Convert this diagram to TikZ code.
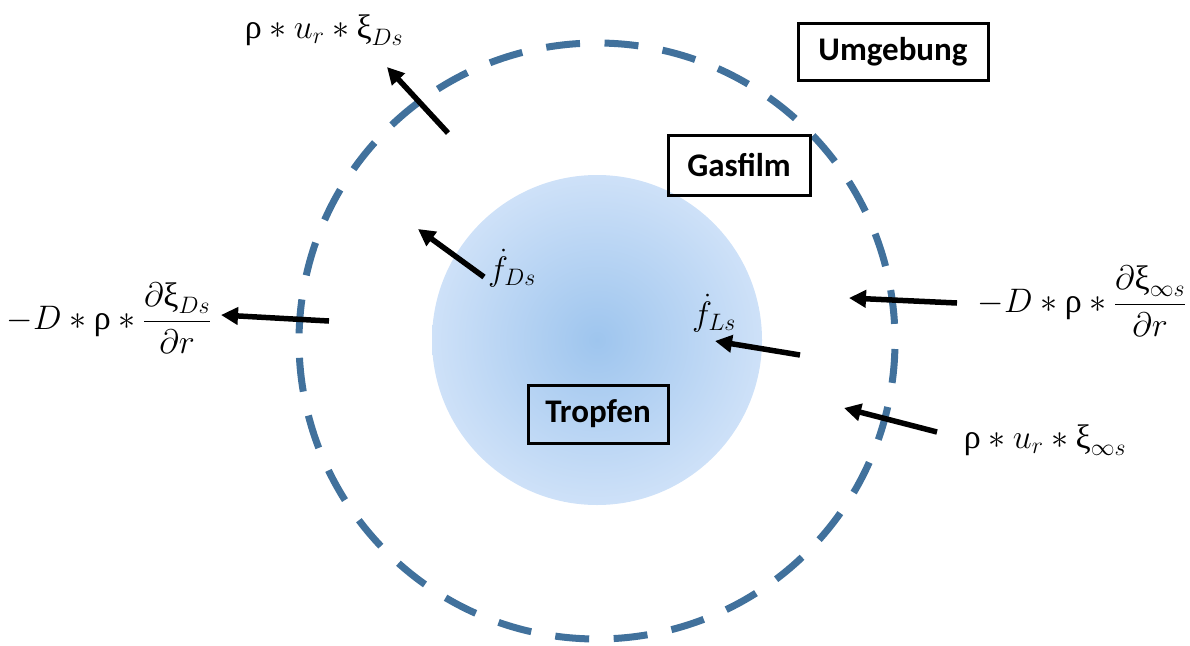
\RequirePackage{fix-cm}
\documentclass[tikz,border=0pt]{standalone}
\usepackage{fontspec}
\newfontfamily\boxfont{Carlito}
\newfontfamily\grk{Liberation Serif}
\usetikzlibrary{arrows.meta}
\definecolor{ringblue}{RGB}{65,113,156}
\definecolor{dropin}{RGB}{158,197,238}
\definecolor{dropout}{RGB}{206,225,248}
\newcommand\grho{\mbox{\grk ρ}}
\newcommand\gxi{\mbox{\grk ξ}}
\tikzset{
  flux/.style={line width=5.5pt,-{Triangle[length=17pt,width=17pt]}},
  labelbox/.style={draw=black,line width=3pt,font=\boxfont\bfseries\fontsize{33}{38}\selectfont,minimum height=57pt,inner sep=0pt},
  mathlbl/.style={font=\fontsize{34}{40}\selectfont,inner sep=0pt}
}
\begin{document}
\begin{tikzpicture}[x=1pt,y=-1pt]
\useasboundingbox (0,0) rectangle (1190,645);
% droplet
\shade[inner color=dropin,outer color=dropout] (597,340) circle (165);
% gas film boundary
\draw[ringblue,line width=7pt,dash pattern=on 34pt off 24.5pt,dash phase=-8pt] (597,341) circle (298);
% boxes
\node[labelbox,minimum width=190pt] (umg) at (893,52) {Umgebung};
\node[labelbox,minimum width=142pt,minimum height=60pt] (gas) at (739,165) {Gasfilm};
\node[labelbox,minimum width=140pt,minimum height=58pt] (tro) at (598,414) {Tropfen};
% labels
\node[mathlbl] (l1) at (324,30) {$\grho\ast u_r\ast\gxi_{Ds}$};
\node[mathlbl] (l2) at (109,318) {$\displaystyle -D\ast\grho\ast\frac{\partial\gxi_{Ds}}{\partial r}$};
\node[mathlbl] (l3) at (1082,301) {$\displaystyle -D\ast\grho\ast\frac{\partial\gxi_{\infty s}}{\partial r}$};
\node[mathlbl] (l4) at (1045,440) {$\grho\ast u_r\ast\gxi_{\infty s}$};
\node[mathlbl] (l5) at (512,268) {$\dot f_{Ds}$};
\node[mathlbl] (l6) at (714,313) {$\dot f_{Ls}$};
% arrow ends
\coordinate (a1s) at (448,133); \coordinate (a1e) at (387,67);
\coordinate (a2s) at (484,277); \coordinate (a2e) at (418,229);
\coordinate (a3s) at (329,321); \coordinate (a3e) at (221,315);
\coordinate (a4s) at (957,303); \coordinate (a4e) at (849,298);
\coordinate (a5s) at (800,355); \coordinate (a5e) at (715,341);
\coordinate (a6s) at (937,432); \coordinate (a6e) at (844,408);
\draw[flux] (a1s) -- (a1e);
\draw[flux] (a2s) -- (a2e);
\draw[flux] (a3s) -- (a3e);
\draw[flux] (a4s) -- (a4e);
\draw[flux] (a5s) -- (a5e);
\draw[flux] (a6s) -- (a6e);
\end{tikzpicture}
\end{document}
